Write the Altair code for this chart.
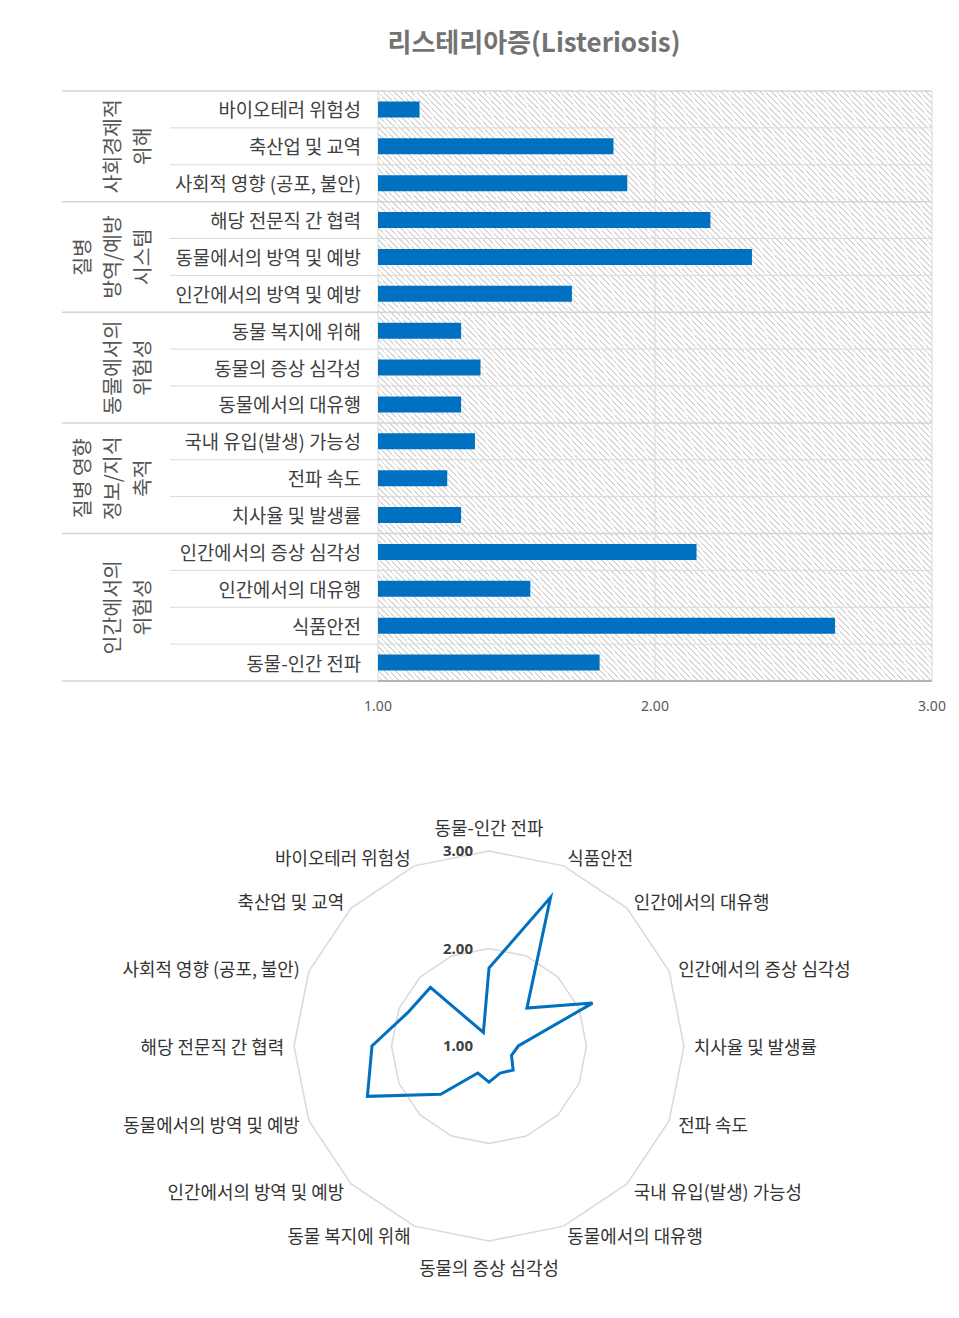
import altair as alt
import pandas as pd

# ---------------- data ----------------
title_text = "리스테리아증(Listeriosis)"
items = [
    "바이오테러 위험성", "축산업 및 교역", "사회적 영향 (공포, 불안)",
    "해당 전문직 간 협력", "동물에서의 방역 및 예방", "인간에서의 방역 및 예방",
    "동물 복지에 위해", "동물의 증상 심각성", "동물에서의 대유행",
    "국내 유입(발생) 가능성", "전파 속도", "치사율 및 발생률",
    "인간에서의 증상 심각성", "인간에서의 대유행", "식품안전", "동물-인간 전파",
]
values = [1.15, 1.85, 1.90, 2.20, 2.35, 1.70, 1.30, 1.37, 1.30,
          1.35, 1.25, 1.30, 2.15, 1.55, 2.65, 1.80]
group_lines = [
    ["사회경제적", "위해"],
    ["질병", "방역/예방", "시스템"],
    ["동물에서의", "위험성"],
    ["질병 영향", "정보/지식", "축적"],
    ["인간에서의", "위험성"],
]
group_sizes = [3, 3, 3, 3, 4]
x_ticks = [1.0, 2.0, 3.0]
radar_ticks = [1.0, 2.0, 3.0]
radar_rings = [2.0, 3.0]

# ---------------- tables ----------------
W, H = 943, 1302
FONT = "Noto Sans CJK KR"
n = len(items)

df_items = pd.DataFrame({"item": items, "value": values, "idx": list(range(n))})
df_items["pos"] = df_items["idx"] + 0.5
df_items["k"] = (n - 1) - df_items["idx"]

bounds = [0]
for s in group_sizes:
    bounds.append(bounds[-1] + s)
df_sep = pd.DataFrame({"b": list(range(n + 1))})
df_sep["grp"] = df_sep["b"].isin(bounds)

rows = []
for lines, s0, s1 in zip(group_lines, bounds[:-1], bounds[1:]):
    m = len(lines)
    for j, t in enumerate(lines):
        rows.append({"label": t, "mid": (s0 + s1) / 2, "col": 3 - m + j})
df_glab = pd.DataFrame(rows)

df_xt = pd.DataFrame({"v": x_ticks})
df_rt = pd.DataFrame({"v": radar_ticks})
df_ring = pd.DataFrame([{"ring": r, "k": k} for r in radar_rings for k in range(n)])

# ---------------- scales ----------------
xs = alt.Scale(domain=[1, 3], range=[370, 924], nice=False, zero=False)
ys = alt.Scale(domain=[0, n], range=[83, 673], nice=False, zero=False)
rx = alt.Scale(domain=[-2, 2], range=[286, 676], nice=False, zero=False)
ry = alt.Scale(domain=[-2, 2], range=[1233, 843], nice=False, zero=False)

# hatch gradient
N = 200
frac = 0.3
stops = []
for i in range(N):
    a = i / N
    m = (i + 1 - frac) / N
    b = min((i + 1) / N, 1.0)
    stops += [
        alt.GradientStop(offset=round(a, 6), color="#ffffff"),
        alt.GradientStop(offset=round(m, 6), color="#ffffff"),
        alt.GradientStop(offset=round(m, 6), color="#d8d8d8"),
        alt.GradientStop(offset=round(b, 6), color="#d8d8d8"),
    ]
grad = alt.LinearGradient(gradient="linear", stops=stops, x1=0, y1=1, x2=1, y2=0)

one = pd.DataFrame({"a": [0]})

# ---------------- top bar panel ----------------
bg = alt.Chart(one).mark_rect(fill=grad).encode(
    x=alt.XDatum(1, scale=xs, axis=None), x2=alt.X2Datum(3),
    y=alt.YDatum(0, scale=ys, axis=None), y2=alt.Y2Datum(n),
)
vgrid = alt.Chart(df_xt).mark_rule(color="#d9d9d9", strokeWidth=1).encode(
    x=alt.X("v:Q", scale=xs, axis=None),
    y=alt.YDatum(0, scale=ys, axis=None), y2=alt.Y2Datum(n),
)
sep_item = alt.Chart(df_sep).transform_filter("!datum.grp").mark_rule(
    color="#d9d9d9", strokeWidth=1).encode(
    x=alt.XDatum(3, scale=xs, axis=None), x2=alt.value(162),
    y=alt.Y("b:Q", scale=ys, axis=None),
)
sep_grp = alt.Chart(df_sep).transform_filter("datum.grp").mark_rule(
    color="#d4d4d4", strokeWidth=1.5).encode(
    x=alt.XDatum(3, scale=xs, axis=None), x2=alt.value(54),
    y=alt.Y("b:Q", scale=ys, axis=None),
)
axis_line = alt.Chart(one).mark_rule(color="#8c8c8c", strokeWidth=1.2).encode(
    x=alt.XDatum(1, scale=xs, axis=None), x2=alt.X2Datum(3),
    y=alt.YDatum(n, scale=ys, axis=None),
)
bars = alt.Chart(df_items).mark_rule(color="#0070C0", strokeWidth=16).encode(
    x=alt.X("value:Q", scale=xs, axis=None), x2=alt.X2Datum(1),
    y=alt.Y("pos:Q", scale=ys, axis=None),
)
item_labels = alt.Chart(df_items).mark_text(
    font=FONT, fontSize=18.8, color="#404040", align="right", baseline="middle",
    dy=2
).encode(
    x=alt.value(353), y=alt.Y("pos:Q", scale=ys, axis=None), text="item:N"
)
glabs = []
for c in range(3):
    glabs.append(
        alt.Chart(df_glab).transform_filter(f"datum.col == {c}").mark_text(
            font=FONT, fontSize=20.5, color="#555555", align="center",
            baseline="middle", angle=270, dy=1
        ).encode(
            x=alt.value(75 + 30 * c), y=alt.Y("mid:Q", scale=ys, axis=None),
            text="label:N",
        )
    )
xtick_labels = alt.Chart(df_xt).mark_text(
    font="Noto Sans", fontSize=14, color="#595959", align="center",
    baseline="middle", dy=26
).encode(
    x=alt.X("v:Q", scale=xs, axis=None),
    y=alt.YDatum(n, scale=ys, axis=None),
    text=alt.Text("v:Q", format=".2f"),
)
title = alt.Chart(pd.DataFrame({"t": [title_text]})).mark_text(
    font=FONT, fontSize=26, fontWeight="bold", color="#737373",
    align="center", baseline="middle", dy=2
).encode(x=alt.value(526), y=alt.value(34), text="t:N")

top = alt.layer(bg, vgrid, sep_item, sep_grp, axis_line, bars, item_labels,
                *glabs, xtick_labels, title)

# ---------------- radar panel ----------------
def polar(ch, rexpr):
    return (ch.transform_calculate(r=rexpr)
              .transform_calculate(px="datum.r * sin(datum.k * PI / 8)")
              .transform_calculate(py="datum.r * cos(datum.k * PI / 8)"))

rings = polar(alt.Chart(df_ring), "datum.ring - 1").mark_line(
    interpolate="linear-closed", color="#d9d9d9", strokeWidth=1.5
).encode(
    x=alt.X("px:Q", scale=rx, axis=None), y=alt.Y("py:Q", scale=ry, axis=None),
    detail="ring:N", order="k:Q",
)
poly = polar(alt.Chart(df_items), "datum.value - 1").mark_line(
    interpolate="linear-closed", color="#0070C0", strokeWidth=3
).encode(
    x=alt.X("px:Q", scale=rx, axis=None), y=alt.Y("py:Q", scale=ry, axis=None),
    order="k:Q",
)

def rlabels(filt, align, baseline, dy=0):
    return polar(alt.Chart(df_items), "2.1").transform_filter(filt).mark_text(
        font=FONT, fontSize=17.9, color="#333333", align=align,
        baseline=baseline, dy=dy
    ).encode(
        x=alt.X("px:Q", scale=rx, axis=None), y=alt.Y("py:Q", scale=ry, axis=None),
        text="item:N",
    )

lab_l = rlabels("datum.k >= 1 && datum.k <= 7", "left", "middle", 3)
lab_r = rlabels("datum.k >= 9", "right", "middle", 3)
lab_t = rlabels("datum.k == 0", "center", "bottom", -2)
lab_b = rlabels("datum.k == 8", "center", "top", 10)

rticks = alt.Chart(df_rt).transform_calculate(py="datum.v - 1").mark_text(
    font="Noto Sans", fontSize=15, fontWeight="bold", color="#404040",
    align="right", baseline="middle", dx=-16
).encode(
    x=alt.XDatum(0, scale=rx, axis=None),
    y=alt.Y("py:Q", scale=ry, axis=None),
    text=alt.Text("v:Q", format=".2f"),
)

radar = alt.layer(rings, poly, lab_l, lab_r, lab_t, lab_b, rticks)

chart = alt.layer(top, radar).resolve_scale(
    x="independent", y="independent"
).properties(
    width=W, height=H, autosize=alt.AutoSizeParams(type="none"), padding=0,
    background="#ffffff",
).configure_view(strokeWidth=0)

chart.save("out.html", embed_options={"renderer": "svg", "actions": False})
